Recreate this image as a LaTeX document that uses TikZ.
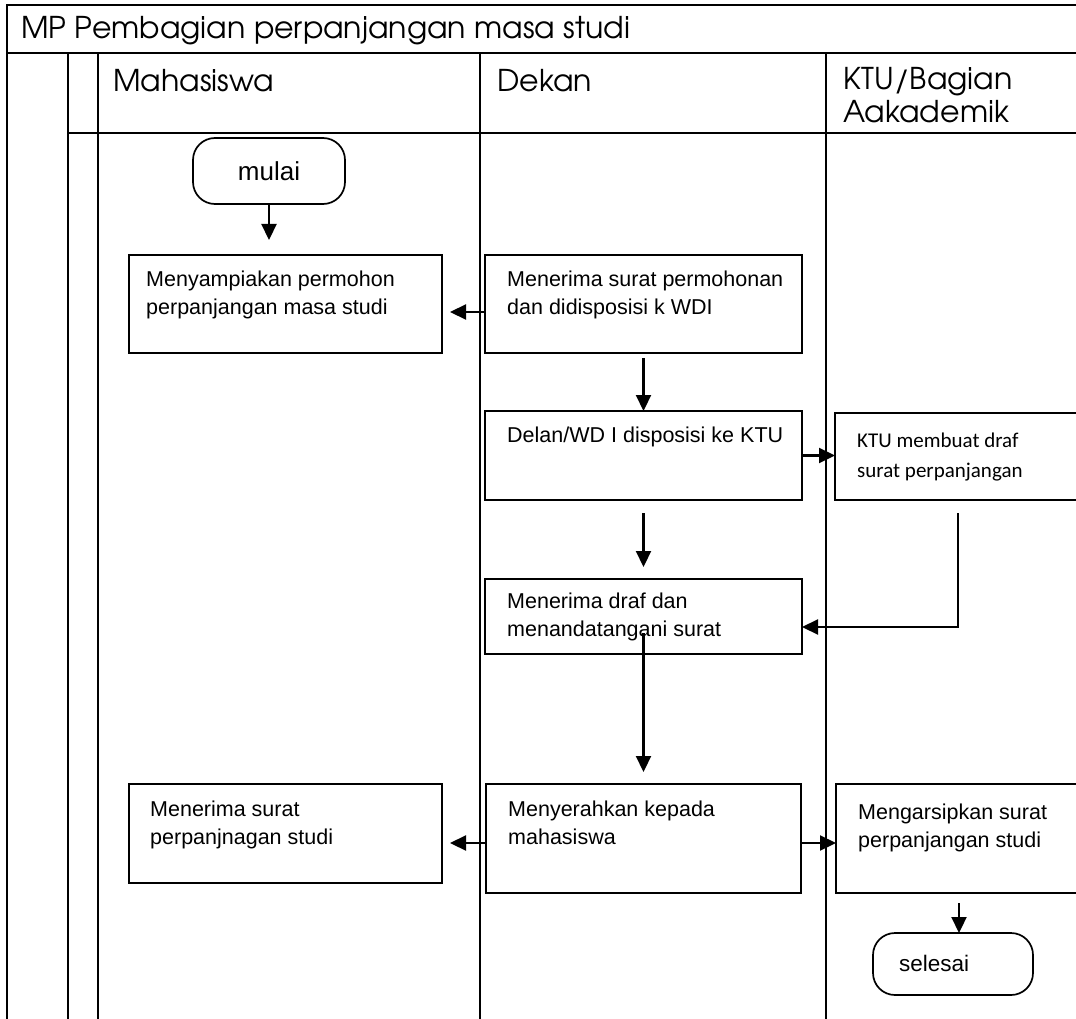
\documentclass[tikz,border=0pt]{standalone}
\usepackage{fontspec}
\setmainfont{Liberation Sans}
\newfontfamily\gothic{TeX Gyre Adventor}
\newfontfamily\calib{Carlito}
\usetikzlibrary{arrows.meta,calc}

% multi-line label whose baseline is the first line
\newcommand\textlines[1]{\parbox[t]{330pt}{\raggedright #1}}

\tikzset{
  frame/.style={line width=2.8pt},
  box/.style={draw, line width=1.9pt, rectangle, inner sep=0pt, outer sep=0pt, anchor=north west},
  term/.style={draw, line width=1.7pt, rectangle, rounded corners=22pt, inner sep=0pt, outer sep=0pt},
  arr/.style={line width=2.2pt, -{Triangle[width=15pt,length=16pt]}},
  txt/.style={inner sep=0pt, anchor=base west, font=\fontsize{21.5}{28}\selectfont},
  ktutxt/.style={inner sep=0pt, anchor=base west, font=\calib\fontsize{21}{30}\selectfont},
  hdr/.style={inner sep=0pt, anchor=base west, font=\gothic\fontsize{30}{33}\selectfont},
}

\begin{document}
\begin{tikzpicture}[x=1pt,y=-1pt]
\useasboundingbox (0,0) rectangle (1076,1019);
\clip (0,0) rectangle (1076,1019);

% table frame: title row, header row and lanes
\draw[frame] (7,1019) -- (7,5) -- (1080,5);
\draw[frame] (7,53) -- (1080,53);
\draw[frame] (68,133) -- (1080,133);
\draw[frame] (68,53) -- (68,1019);
\draw[frame] (98,53) -- (98,1019);
\draw[frame] (480,53) -- (480,1019);
\draw[frame] (826,53) -- (826,1019);

% title and lane headings
\node[hdr] (title) at (21,39) {MP Pembagian perpanjangan masa studi};
\node[hdr] (lane1) at (113,92) {Mahasiswa};
\node[hdr] (lane2) at (497,92) {Dekan};
\node[hdr] (lane3) at (843,90) {\textlines{KTU/Bagian\\Aakademik}};

% terminators
\node[term, minimum width=152pt, minimum height=66pt, font=\fontsize{26}{30}\selectfont] (mulai) at (269,171) {mulai};
\node[term, minimum width=160pt, minimum height=62pt] (selesai) at (953,964) {};
\node[inner sep=0pt, anchor=base west, font=\fontsize{22.5}{28}\selectfont] (selesai-t) at (899,971) {selesai};

% process boxes
\node[box, minimum width=313pt, minimum height=98pt] (mhs1) at (129,255) {};
\node[box, minimum width=317pt, minimum height=98pt] (dk1) at (485,255) {};
\node[box, minimum width=317pt, minimum height=89pt] (dk2) at (485,411) {};
\node[box, minimum width=246pt, minimum height=87pt] (ktu1) at (835,413) {};
\node[box, minimum width=317pt, minimum height=75pt] (dk3) at (485,579) {};
\node[box, minimum width=313pt, minimum height=99pt] (mhs2) at (129,784) {};
\node[box, minimum width=315pt, minimum height=109pt] (dk4) at (486,784) {};
\node[box, minimum width=246pt, minimum height=109pt] (ark) at (836,784) {};

% box texts
\node[txt] (mhs1-t) at (146,286) {\textlines{Menyampiakan permohon\\perpanjangan masa studi}};
\node[txt] (dk1-t) at (507,286) {\textlines{Menerima surat permohonan\\dan didisposisi k WDI}};
\node[txt] (dk2-t) at (507,442) {\textlines{Delan/WD I disposisi ke KTU}};
\node[ktutxt] (ktu1-t) at (857,447) {\textlines{KTU membuat draf\\surat perpanjangan}};
\node[txt] (dk3-t) at (507,608) {\textlines{Menerima draf dan\\menandatangani surat}};
\node[txt] (mhs2-t) at (150,816) {\textlines{Menerima surat\\perpanjnagan studi}};
\node[txt] (dk4-t) at (508,816) {\textlines{Menyerahkan kepada\\mahasiswa}};
\node[txt] (ark-t) at (858,819) {\textlines{Mengarsipkan surat\\perpanjangan studi}};

% connectors
\draw[arr] (mulai.south) -- ($(mulai.south |- mhs1.north)+(0,-15)$);
\draw[arr] ($(dk1.west)+(0,8)$) -- ($(dk1.west -| mhs1.east)+(8,8)$);
\draw[arr] ($(dk1.south)+(0,5)$) -- (dk2.north);
\draw[arr] (dk2.east) -- (dk2.east -| ktu1.west);
\draw[arr] ($(dk2.south)+(0,13)$) -- ($(dk3.north)+(0,-12)$);
\draw[arr] ($(ktu1.south)+(0,13)$) |- ($(dk3.east)+(0,10.5)$);
\draw[arr] ($(dk3.south)+(0,-21)$) -- ($(dk4.north)+(0,-12)$);
\draw[arr] ($(dk4.west)+(0,4.5)$) -- ($(dk4.west -| mhs2.east)+(8,4.5)$);
\draw[arr] ($(dk4.east)+(0,4.5)$) -- ($(dk4.east -| ark.west)+(0,4.5)$);
\draw[arr] ($(ark.south)+(0,10)$) -- (ark.south |- selesai.north);
\end{tikzpicture}
\end{document}
